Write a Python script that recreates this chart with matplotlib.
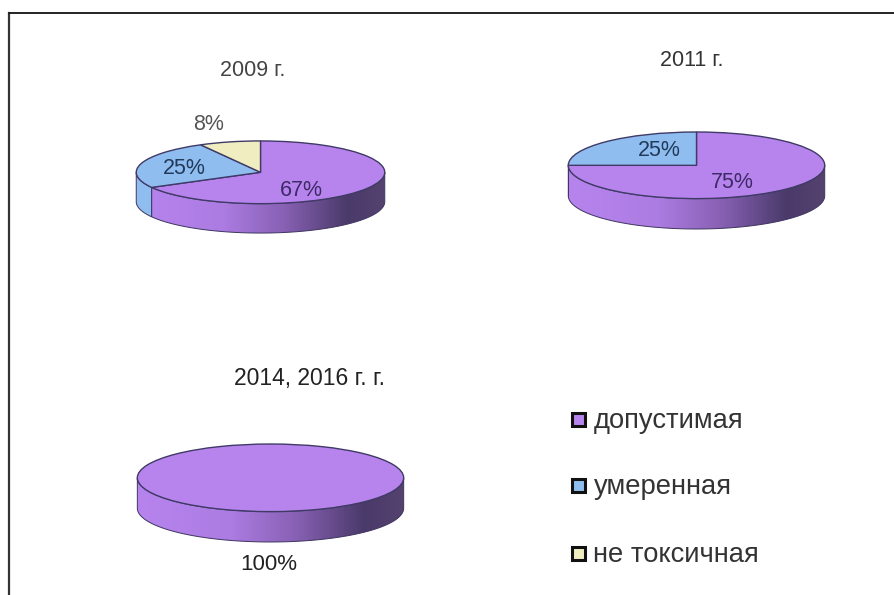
import numpy as np
import matplotlib
matplotlib.use('Agg')
from matplotlib import pyplot as plt
from matplotlib.colors import LinearSegmentedColormap
from matplotlib.patches import Polygon, Rectangle

categories = ['допустимая', 'умеренная', 'не токсичная']
values_2009 = [67, 25, 8]
values_2011 = [75, 25]
values_2014 = [100]
labels_2009 = ['67%', '25%', '8%']
labels_2011 = ['75%', '25%']
labels_2014 = ['100%']

colors = ['#b784ee', '#8fbdf0', '#f0eec0']
W, H = 895, 595
plt.rcParams['font.family'] = ['Liberation Sans', 'DejaVu Sans']

fig = plt.figure(figsize=(W / 100, H / 100), dpi=100)
bg = fig.add_axes([0, 0, 1, 1])
bg.set_xlim(0, W)
bg.set_ylim(H, 0)
bg.axis('off')
bg.set_zorder(10)
bg.plot([9.5, 9.5], [H, 12.5], color='#333333', lw=1.6)
bg.plot([9.5, W], [12.5, 12.5], color='#222222', lw=1.4)

wall_cmap = LinearSegmentedColormap.from_list(
    'wall', [(0, '#b784ee'), (0.35, '#ac7ce2'), (0.6, '#8760b3'), (0.85, '#4a3a6a'), (1, '#55426f')])


def pie3d(values, left, right, top, ry, depth):
    # axes covers the top ellipse and the wall, y unit = ry pixels
    d = depth / ry
    ax = fig.add_axes([left / W, 1 - (top + 2 * ry + depth) / H, (right - left) / W, (2 * ry + depth) / H])
    ax.set_facecolor('none')
    angles = 90 - np.cumsum([0] + values) * 3.6
    # wall, one piece per wedge, only the front half shows
    for i in range(len(values)):
        a1, a0 = angles[i], angles[i + 1]
        t = np.radians(np.linspace(a0, a1, 300))
        t = t[np.sin(t) <= 0]
        if len(t) == 0:
            continue
        x = np.cos(t)
        y = np.sin(t)
        pts = np.column_stack([np.r_[x, x[::-1]], np.r_[y, y[::-1] - d]])
        poly = Polygon(pts, closed=True, facecolor='none', edgecolor='#3f3560', lw=0.7, zorder=3)
        ax.add_patch(poly)
        if i == 0:
            im = ax.imshow(np.linspace(0, 1, 256)[None, :], extent=[-1, 1, -1 - d, 1], cmap=wall_cmap,
                           aspect='auto', zorder=2)
            im.set_clip_path(poly)
        else:
            poly.set_facecolor(colors[i])
    ax.pie(values, colors=colors[:len(values)], startangle=90, counterclock=False, radius=1,
           wedgeprops={'edgecolor': '#3f3a66', 'linewidth': 1.0, 'zorder': 4})
    ax.set_aspect('auto')
    ax.set_xlim(-1.01, 1.01)
    ax.set_ylim(-1 - d - 0.03, 1.03)
    ax.axis('off')
    return ax


pie3d(values_2009, 135, 386, 140, 32, 30)
pie3d(values_2011, 567, 826, 131, 34, 31)
pie3d(values_2014, 136, 405, 443, 34.5, 31)

fs = 15.5
bg.text(253, 71, '2009 г.', fontsize=fs, color='#444444', ha='center', va='center')
bg.text(692, 60, '2011 г.', fontsize=fs, color='#333333', ha='center', va='center')
bg.text(310, 378, '2014, 2016 г. г.', fontsize=16.5, color='#222222', ha='center', va='center')

bg.text(209, 125, labels_2009[2], fontsize=fs, color='#555555', ha='center', va='center')
bg.text(184, 168, labels_2009[1], fontsize=fs, color='#223a5a', ha='center', va='center')
bg.text(301, 190, labels_2009[0], fontsize=fs, color='#3d2a66', ha='center', va='center')
bg.text(659, 151, labels_2011[1], fontsize=fs, color='#223a5a', ha='center', va='center')
bg.text(732, 183, labels_2011[0], fontsize=fs, color='#3d2a66', ha='center', va='center')
bg.text(269, 564, labels_2014[0], fontsize=16, color='#222222', ha='center', va='center')

legend_y = [419, 485, 553]
for cat, c, y in zip(categories, colors, legend_y):
    bg.add_patch(Rectangle((572.5, y - 6.5), 13, 13, facecolor=c, edgecolor='#111111', lw=2.2))
    bg.text(593.5, y + 2, cat, fontsize=19.7, color='#333333', ha='left', va='center')

fig.savefig('out.png', dpi=100)
